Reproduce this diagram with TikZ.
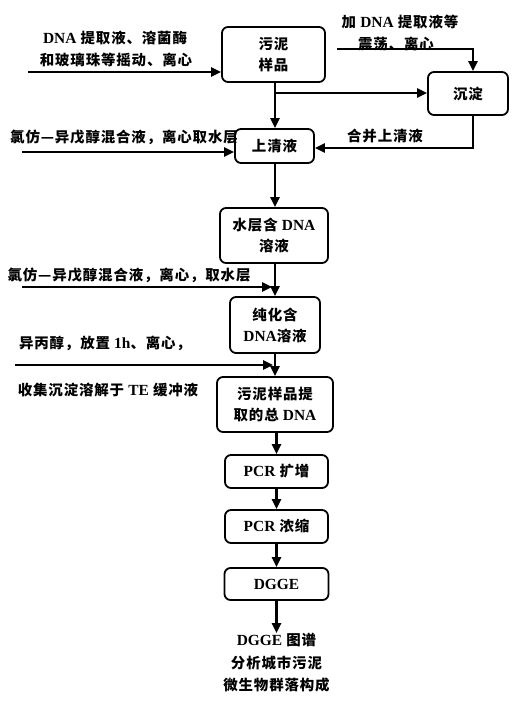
\documentclass[tikz,border=0pt]{standalone}
\usepackage{fontspec}
\setmainfont{Liberation Serif}
\newfontfamily\cjk{Noto Sans CJK SC}[LetterSpace=6]
\usetikzlibrary{arrows.meta}
\newcommand\lt[1]{{\rmfamily\bfseries\fontsize{15.5}{21}\selectfont #1}}
\begin{document}
\begin{tikzpicture}[x=1bp,y=-1bp,
  txt/.style={inner sep=0, align=center, font=\fontsize{14.5}{21}\cjk\bfseries},
  box/.style={txt, draw, line width=1.8bp, rounded corners=6bp},
  arr/.style={line width=2.4bp, -{Triangle[length=10bp,width=9bp]}}]
\useasboundingbox (0,0) rectangle (520,709);
% boxes
\node[box, minimum width=103bp, minimum height=55bp] (s1) at (273.5,54.5) {污泥\\样品};
\node[box, minimum width=80bp, minimum height=43bp] (s2) at (468,93.5) {沉淀};
\node[box, minimum width=79bp, minimum height=34bp] (s3) at (274.5,146) {上清液};
\node[box, minimum width=108bp, minimum height=55bp] (s4) at (274,235.5) {水层含 \lt{DNA}\\溶液};
\node[box, minimum width=90bp, minimum height=56bp] (s5) at (275,325) {纯化含\\\lt{DNA}溶液};
\node[box, minimum width=116bp, minimum height=55bp] (s6) at (275,404.5) {污泥样品提\\取的总 \lt{DNA}};
\node[box, minimum width=103bp, minimum height=33bp] (s7) at (276.5,471.5) {\lt{PCR} 扩增};
\node[box, minimum width=103bp, minimum height=33bp] (s8) at (276.5,526.5) {\lt{PCR} 浓缩};
\node[box, minimum width=104bp, minimum height=32bp] (s9) at (276.5,584) {\lt{DGGE}};
\node[txt, font=\fontsize{14.5}{22.5}\cjk\bfseries, anchor=north] (fin) at (276.5,633) {\lt{DGGE} 图谱\\分析城市污泥\\微生物群落构成};
% side labels
\node[txt] (a1) at (115,38) {\lt{DNA} 提取液、溶菌酶};
\node[txt] (a2) at (116,60) {和玻璃珠等摇动、离心};
\node[txt] (b1) at (400,22) {加 \lt{DNA} 提取液等};
\node[txt] (b2) at (396,44) {震荡、离心};
\node[txt] (c1) at (124,137) {氯仿—异戊醇混合液，离心取水层};
\node[txt] (d1) at (385,136) {合并上清液};
\node[txt] (e1) at (129,275) {氯仿—异戊醇混合液，离心，取水层};
\node[txt] (f1) at (105,343) {异丙醇，放置 \lt{1h}、离心，};
\node[txt] (f2) at (108,390) {收集沉淀溶解于 \lt{TE} 缓冲液};
% coordinates
\coordinate (l1) at (28,72);
\coordinate (l2) at (22,152);
\coordinate (l3) at (22,287);
\coordinate (l4) at (15,365);
\coordinate (t1) at (337,49);
\coordinate (j1) at (275,93);
\coordinate (j2) at (276.5,0);
\coordinate (r1) at (473,0);
\coordinate (m3) at (275,287);
\coordinate (m4) at (275,365);
% connectors
\draw[arr] (l1) -- (l1 -| s1.west);
\draw[arr] (s1.south -| j1) -- (s3.north -| j1);
\draw[arr] (j1) -- (j1 -| s2.west);
\draw[arr] (t1) -| (s2.north -| r1);
\draw[arr] (s2.south -| r1) |- ([yshift=-2bp]s3.east);
\draw[arr] (l2) -- (l2 -| s3.west);
\draw[arr] (s3.south -| j1) -- (s4.north -| j1);
\draw[arr] (s4.south -| j1) -- (s5.north -| j1);
\draw[arr] (l3) -- ([xshift=-3bp]m3);
\draw[arr] (s5.south -| j1) -- (s6.north -| j1);
\draw[arr] (l4) -- ([xshift=-2bp]m4);
\draw[arr] (s6.south -| j2) -- (s7.north);
\draw[arr] (s7.south) -- (s8.north);
\draw[arr] (s8.south) -- (s9.north);
\draw[arr] (s9.south) -- (fin.north);
\end{tikzpicture}
\end{document}
